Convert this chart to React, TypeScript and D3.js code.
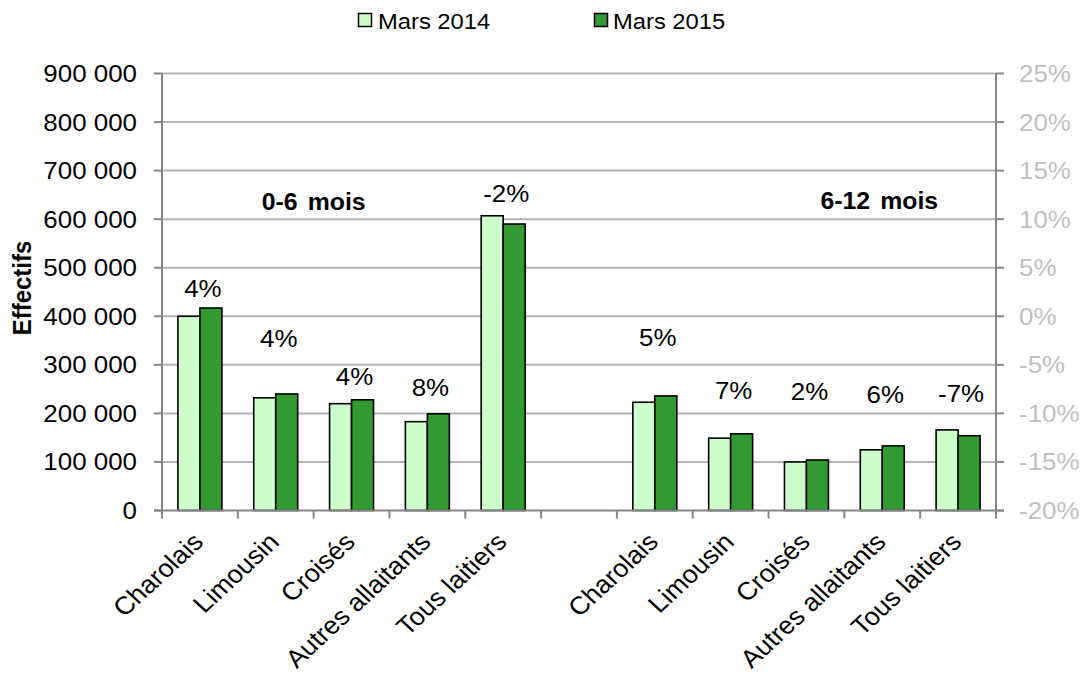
import React from "react";
import * as d3 from "d3";

const categories = ["Charolais", "Limousin", "Croisés", "Autres allaitants", "Tous laitiers"];
const groups = ["0-6 mois", "6-12 mois"];
const series = ["Mars 2014", "Mars 2015"];
const values2014 = [400000, 232000, 220000, 183000, 607000, 223000, 149000, 100000, 125000, 166000];
const values2015 = [417000, 240000, 228000, 199000, 590000, 236000, 158000, 104000, 133000, 154000];
const pctLabels = ["4%", "4%", "4%", "8%", "-2%", "5%", "7%", "2%", "6%", "-7%"];
const pctLabelLevel = [439000, 336000, 258000, 236000, 636000, 339000, 229000, 228000, 221000, 223000];
const leftTicks = [0, 100000, 200000, 300000, 400000, 500000, 600000, 700000, 800000, 900000];
const rightTicks = [-0.2, -0.15, -0.1, -0.05, 0, 0.05, 0.1, 0.15, 0.2, 0.25];

const colors = ["#ccffcc", "#339933"];
const FONT = "'Liberation Sans', Arial, sans-serif";
const SX = 1.08;

export default function App() {
  const W = 1086, H = 677;
  const left = 162, right = 996, top = 73.5, bottom = 510.5;

  const slots: string[] = [];
  categories.forEach((_, i) => slots.push("a" + i));
  slots.push("gap");
  categories.forEach((_, i) => slots.push("b" + i));
  const barSlots = slots.filter((s) => s !== "gap");

  const x = d3.scaleBand<string>().domain(slots).range([left, right]).paddingInner(0.42).paddingOuter(0.21);
  const xs = d3.scaleBand<string>().domain(series).range([0, x.bandwidth()]);
  const step = x.step();
  const slotCenter = (s: string) => (x(s) as number) + x.bandwidth() / 2;
  const y = d3.scaleLinear().domain([0, 900000]).range([bottom, top]);
  const y2 = d3.scaleLinear().domain([-0.2, 0.25]).range([bottom, top]);
  const fmt = (v: number) => d3.format(",")(v).replace(/,/g, " ");
  const pfmt = (v: number) => Math.round(v * 100) + "%";

  const tickEdges = d3.range(slots.length + 1).map((i) => left + i * step);
  const allVals = [values2014, values2015];

  return (
    <svg width={W} height={H} style={{ position: "absolute", left: 0, top: 0, background: "#fff" }} fontFamily={FONT}>
      {leftTicks.filter((t) => t > 0).map((t) => (
        <line key={"g" + t} x1={left} x2={right} y1={y(t)} y2={y(t)} stroke="#b4b4b4" strokeWidth={2} />
      ))}
      {barSlots.map((s, i) =>
        series.map((ser, k) => (
          <rect
            key={s + ser}
            x={(x(s) as number) + (xs(ser) as number)}
            y={y(allVals[k][i])}
            width={xs.bandwidth()}
            height={bottom - y(allVals[k][i])}
            fill={colors[k]}
            stroke="#000"
            strokeWidth={1.6}
          />
        ))
      )}
      <line x1={left} x2={left} y1={top} y2={bottom} stroke="#868686" strokeWidth={2} />
      <line x1={right} x2={right} y1={top} y2={bottom} stroke="#868686" strokeWidth={2} />
      <line x1={left - 8} x2={right + 8} y1={bottom} y2={bottom} stroke="#868686" strokeWidth={2} />
      {leftTicks.map((t) => (
        <g key={"l" + t}>
          <line x1={left - 8} x2={left} y1={y(t)} y2={y(t)} stroke="#868686" strokeWidth={2} />
          <text transform={`translate(137,${y(t) + 8.5}) scale(${SX},1)`} textAnchor="end" fontSize={24} fill="#000">
            {fmt(t)}
          </text>
        </g>
      ))}
      {rightTicks.map((t) => (
        <g key={"r" + t}>
          <line x1={right} x2={right + 8} y1={y2(t)} y2={y2(t)} stroke="#868686" strokeWidth={2} />
          <text transform={`translate(1019,${y2(t) + 8.5}) scale(${SX},1)`} textAnchor="start" fontSize={24} fill="#bfbfbf">
            {pfmt(t)}
          </text>
        </g>
      ))}
      {tickEdges.map((tx, i) => (
        <line key={"xt" + i} x1={tx} x2={tx} y1={bottom} y2={bottom + 8} stroke="#868686" strokeWidth={2} />
      ))}
      {barSlots.map((s, i) => (
        <text
          key={"xl" + s}
          transform={`translate(${slotCenter(s) + 5},${bottom + 33}) scale(${SX},1) rotate(-45)`}
          textAnchor="end"
          fontSize={25}
          fill="#000"
        >
          {categories[i % categories.length]}
        </text>
      ))}
      {barSlots.map((s, i) => (
        <text
          key={"p" + s}
          transform={`translate(${slotCenter(s) + 3},${y(pctLabelLevel[i])}) scale(${SX},1)`}
          textAnchor="middle"
          fontSize={24}
          fill="#000"
        >
          {pctLabels[i]}
        </text>
      ))}
      <text transform={`translate(${(slotCenter("a1") + slotCenter("a2")) / 2},210) scale(${SX},1)`} textAnchor="middle" fontSize={23} fontWeight="bold" wordSpacing={3}>
        {groups[0]}
      </text>
      <text transform={`translate(${slotCenter("b3") - 3},208.5) scale(${SX},1)`} textAnchor="middle" fontSize={23} fontWeight="bold" wordSpacing={3}>
        {groups[1]}
      </text>
      <text transform={`translate(31,288) scale(${SX},1) rotate(-90)`} textAnchor="middle" fontSize={24} fontWeight="bold">
        Effectifs
      </text>
      {series.map((ser, k) => (
        <g key={"lg" + ser}>
          <rect x={[358.5, 594.5][k]} y={13.5} width={13} height={13} fill={colors[k]} stroke="#000" strokeWidth={1.5} />
          <text transform={`translate(${[378, 613][k]},28.5) scale(${SX},1)`} fontSize={22} fill="#000">
            {ser}
          </text>
        </g>
      ))}
    </svg>
  );
}
